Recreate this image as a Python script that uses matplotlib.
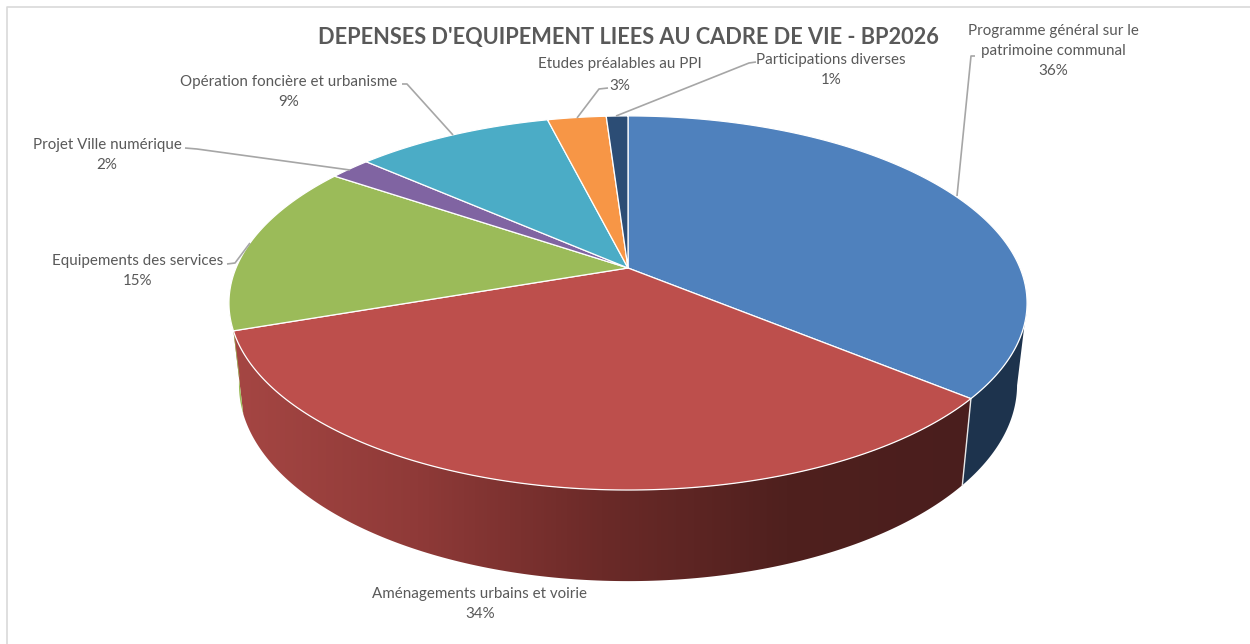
import numpy as np
import matplotlib
matplotlib.use("Agg")
import matplotlib.pyplot as plt
from matplotlib.colors import LinearSegmentedColormap
from matplotlib.patches import Polygon

plt.rcParams["font.family"] = ["Lato", "DejaVu Sans"]

categories = [
    "Programme général sur le\npatrimoine communal",
    "Aménagements urbains et voirie",
    "Equipements des services",
    "Projet Ville numérique",
    "Opération foncière et urbanisme",
    "Etudes préalables au PPI",
    "Participations diverses",
]
values = [36.0, 33.7, 14.8, 2.0, 9.6, 2.85, 1.05]
pct_labels = ["36%", "34%", "15%", "2%", "9%", "3%", "1%"]
colors = ["#4f81bd", "#bd4f4c", "#9bbb59", "#8064a2", "#4bacc6", "#f79646", "#2c4d75"]

# label centre x, y of first line
label_pos = [(1053, 31), (480, 594), (138, 261), (107, 145), (289, 82), (620, 64), (831, 60)]
leaders = [
    [(975, 56), (971, 56), (957, 196)],
    [],
    [(227, 264), (235, 263), (250, 243)],
    [(185, 148), (197, 149), (350, 170)],
    [(402, 84), (407, 84), (453, 135)],
    [(608, 88), (599, 89), (577, 118)],
    [(756, 62), (749, 63), (616, 116)],
]

W, H = 1250, 644
CX, CY = 628, 268
PERSP, A, D = 0.187, 180.5, 392
TEXT = "#595959"
LEADER = "#a6a6a6"


def top_xy(deg):
    # clockwise from the top of the pie, perspective on the disc
    t = np.radians(deg)
    u, v = np.sin(t), np.cos(t)
    den = 1 + PERSP * v
    return CX + D * u / den, CY - A * v / den


def low_xy(deg):
    x, y = top_xy(deg)
    return CX + 0.975 * (x - CX), 348 + 1.05 * (y - CY)


fig = plt.figure(figsize=(W / 100, H / 100), dpi=100)
fig.patch.set_facecolor("white")
ax = fig.add_axes([0, 0, 1, 1])
ax.set_xlim(0, W)
ax.set_ylim(H, 0)
ax.axis("off")

# frame of the pasted chart, only top and left show
ax.plot([7, 7, W], [H, 7, 7], color="#d9d9d9", lw=1.2)

edges = np.concatenate([[0], np.cumsum(values)]) * 3.6

red_cmap = LinearSegmentedColormap.from_list(
    "red_wall", ["#a54643", "#8f3a38", "#6b2a28", "#4f201e", "#4a1e1d"]
)

# outer walls, near side of the pie only
for i in range(len(values)):
    a0, a1 = max(edges[i], 101), min(edges[i + 1], 262)
    if a1 <= a0:
        continue
    ang = np.linspace(a0, a1, 160)
    tx, ty = top_xy(ang)
    lx, ly = low_xy(ang)
    pts = np.column_stack([np.r_[tx, lx[::-1]], np.r_[ty, ly[::-1]]])
    if i == 1:
        wall = Polygon(pts, closed=True, fc="none", ec="none")
        ax.add_patch(wall)
        grad = np.linspace(0, 1, 256).reshape(1, -1)
        img = ax.imshow(
            grad, cmap=red_cmap, aspect="auto", zorder=2,
            extent=[min(tx.min(), lx.min()), max(tx.max(), lx.max()), H, 0],
        )
        img.set_clip_path(wall)
    elif i == 0:
        ax.add_patch(Polygon(pts, closed=True, fc="#1d334d", ec="none", zorder=2))
    else:
        ax.add_patch(Polygon(pts, closed=True, fc=colors[i], ec="none", zorder=2))

ax.set_xlim(0, W)
ax.set_ylim(H, 0)

# divider between the blue and red walls
x0, y0 = top_xy(edges[1])
x1, y1 = low_xy(edges[1])
ax.plot([x0, x1], [y0, y1], color="#e8e8e8", lw=1.0, zorder=3)

# top face
for i in range(len(values)):
    ang = np.linspace(edges[i], edges[i + 1], 200)
    tx, ty = top_xy(ang)
    pts = np.column_stack([np.r_[CX, tx], np.r_[CY, ty]])
    ax.add_patch(Polygon(pts, closed=True, fc=colors[i], ec="white", lw=0.9, joinstyle="round", zorder=4))

# leader lines and labels
for i in range(len(categories)):
    if leaders[i]:
        xs, ys = zip(*leaders[i])
        ax.plot(xs, ys, color=LEADER, lw=1.2, zorder=5, solid_capstyle="butt")
    lx, ly = label_pos[i]
    lines = categories[i].split("\n") + [pct_labels[i]]
    step = 22 if i == 5 else 20
    for k, line in enumerate(lines):
        ax.text(lx, ly + k * step, line, color=TEXT, fontsize=10.9, ha="center", va="center", zorder=6)

ax.text(
    628, 37, "DEPENSES D'EQUIPEMENT LIEES AU CADRE DE VIE - BP2026",
    color=TEXT, fontsize=15.7, fontweight="bold", ha="center", va="center", zorder=6,
)

fig.savefig("out.png", dpi=100, facecolor="white")
plt.close(fig)
